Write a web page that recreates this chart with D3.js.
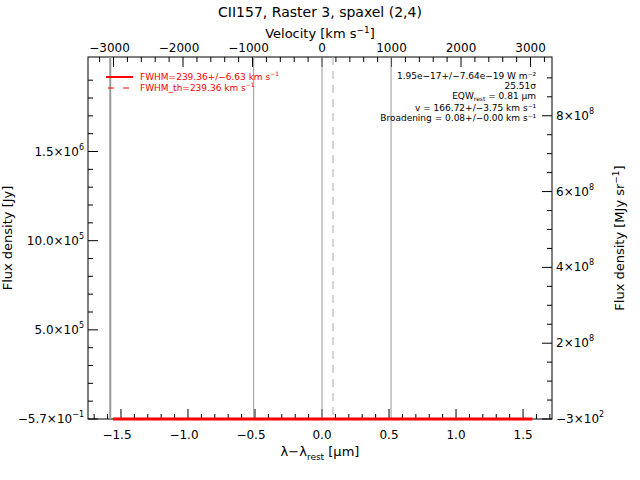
<!DOCTYPE html>
<html><head><meta charset="utf-8">
<script src="https://cdn.jsdelivr.net/npm/d3@7"></script>
<style>body{margin:0;background:#fff}text{font-family:"DejaVu Sans",sans-serif;fill:#000}</style>
</head><body>
<svg id="c" width="640" height="480"></svg>
<script>
// data
var xTicks = [-1.5, -1.0, -0.5, 0.0, 0.5, 1.0, 1.5];
var velTicks = [-3000, -2000, -1000, 0, 1000, 2000, 3000];
var leftTicks = [[0, "\u22125.7\u00d710", "\u22121"], [5e5, "5.0\u00d710", "5"], [1e6, "10.0\u00d710", "5"], [1.5e6, "1.5\u00d710", "6"]];
var rightTicks = [[0, "\u22123\u00d710", "2"], [2e8, "2\u00d710", "8"], [4e8, "4\u00d710", "8"], [6e8, "6\u00d710", "8"], [8e8, "8\u00d710", "8"]];
var thinLines = [-0.51, 0.0, 0.515];
var thickLine = -1.58;
var dashLine = 0.082;
var spectrum = [[-1.56, 0], [1.57, 0]];
var notes = ["1.95e\u221217+/\u22127.64e\u221219 W m\u207b\u00b2", "25.51\u03c3", "EQW_rest = 0.81 \u03bcm", "v = 166.72+/\u22123.75 km s\u207b\u00b9", "Broadening = 0.08+/\u22120.00 km s\u207b\u00b9"];

var L = 88, R = 552, T = 57, B = 419;
var svg = d3.select("#c");
var x = d3.scaleLinear().domain([-1.746, 1.716]).range([L, R]);
var v = d3.scaleLinear().domain([-3367, 3309]).range([L, R]);
var y = d3.scaleLinear().domain([0, 2.03e6]).range([B, T]);
var y2 = d3.scaleLinear().domain([0, 9.55e8]).range([B, T]);

function tick(g, x1, y1, x2, y2c) { g.append("line").attr("x1", x1).attr("y1", y1).attr("x2", x2).attr("y2", y2c).attr("stroke", "#000"); }
var ax = svg.append("g");
ax.append("rect").attr("x", L).attr("y", T).attr("width", R - L).attr("height", B - T).attr("fill", "none").attr("stroke", "#000");
d3.range(-1.7, 1.71, 0.1).forEach(function (d) {
  var big = Math.abs(d * 2 - Math.round(d * 2)) < 1e-6;
  tick(ax, x(d), B, x(d), B - (big ? 10 : 5));
});
d3.range(-3200, 3201, 200).forEach(function (d) {
  tick(ax, v(d), T, v(d), T + (d % 1000 === 0 ? 10 : 5));
});
d3.range(0, 2.0e6, 1e5).forEach(function (d) { tick(ax, L, y(d), L + (d % 5e5 === 0 ? 10 : 5), y(d)); });
d3.range(0, 9.5e8, 5e7).forEach(function (d) { tick(ax, R, y2(d), R - (d % 2e8 === 0 ? 10 : 5), y2(d)); });

xTicks.forEach(function (d) {
  ax.append("text").attr("x", x(d) - (d < 0 ? 4 : 0)).attr("y", B + 20).attr("text-anchor", "middle").attr("font-size", 12)
    .text(d < 0 ? "\u2212" + Math.abs(d).toFixed(1) : d.toFixed(1));
});
velTicks.forEach(function (d) {
  ax.append("text").attr("x", v(d) - (d < 0 ? 4 : 0)).attr("y", T - 5).attr("text-anchor", "middle").attr("font-size", 12)
    .text(d < 0 ? "\u2212" + Math.abs(d) : d);
});
leftTicks.forEach(function (d) {
  var t = ax.append("text").attr("x", L - 4).attr("y", y(d[0]) + 4).attr("text-anchor", "end").attr("font-size", 12);
  t.append("tspan").text(d[1]);
  t.append("tspan").attr("dy", -6).attr("font-size", 8).text(d[2]);
});
rightTicks.forEach(function (d) {
  var t = ax.append("text").attr("x", R + 4).attr("y", y2(d[0]) + 4).attr("font-size", 12);
  t.append("tspan").text(d[1]);
  t.append("tspan").attr("dy", -6).attr("font-size", 8).text(d[2]);
});

// titles
svg.append("text").attr("x", 320).attr("y", 17).attr("text-anchor", "middle").attr("font-size", 14).text("CII157, Raster 3, spaxel (2,4)");
var vt = svg.append("text").attr("x", 320).attr("y", 38).attr("text-anchor", "middle").attr("font-size", 13);
vt.append("tspan").text("Velocity [km s");
vt.append("tspan").attr("dy", -5).attr("font-size", 9).text("\u22121");
vt.append("tspan").attr("dy", 5).text("]");
var xt = svg.append("text").attr("x", 320).attr("y", 456).attr("text-anchor", "middle").attr("font-size", 13);
xt.append("tspan").text("\u03bb\u2212\u03bb");
xt.append("tspan").attr("dy", 4).attr("font-size", 9).text("rest");
xt.append("tspan").attr("dy", -4).text(" [\u03bcm]");
svg.append("text").attr("transform", "translate(12,238) rotate(-90)").attr("text-anchor", "middle").attr("font-size", 13).text("Flux density [Jy]");
var rt = svg.append("text").attr("transform", "translate(624,238) rotate(-90)").attr("text-anchor", "middle").attr("font-size", 13);
rt.append("tspan").text("Flux density [MJy sr");
rt.append("tspan").attr("dy", -5).attr("font-size", 9).text("\u22121");
rt.append("tspan").attr("dy", 5).text("]");

// vertical markers
svg.append("line").attr("x1", x(thickLine)).attr("x2", x(thickLine)).attr("y1", T).attr("y2", B).attr("stroke", "#999").attr("stroke-width", 2);
thinLines.forEach(function (d) {
  svg.append("line").attr("x1", x(d)).attr("x2", x(d)).attr("y1", T).attr("y2", B).attr("stroke", "#999");
});
svg.append("line").attr("x1", x(dashLine)).attr("x2", x(dashLine)).attr("y1", T).attr("y2", B).attr("stroke", "#aaa").attr("stroke-dasharray", "8,6");

// spectrum
svg.append("path").datum(spectrum).attr("fill", "none").attr("stroke", "#f00").attr("stroke-width", 3)
  .attr("d", d3.line().x(function (d) { return x(d[0]); }).y(function (d) { return y(d[1]); }));

// legend
svg.append("line").attr("x1", 106).attr("x2", 133).attr("y1", 77).attr("y2", 77).attr("stroke", "#f00").attr("stroke-width", 2);
svg.append("line").attr("x1", 108).attr("x2", 133).attr("y1", 88).attr("y2", 88).attr("stroke", "#f00").attr("stroke-dasharray", "6,9");
var l1 = svg.append("text").attr("x", 140).attr("y", 80).attr("font-size", 9).style("fill", "#f00");
l1.append("tspan").text("FWHM=239.36+/\u22126.63 km s");
l1.append("tspan").attr("dy", -4).attr("font-size", 6).text("\u22121");
var l2 = svg.append("text").attr("x", 140).attr("y", 91).attr("font-size", 9).style("fill", "#f00");
l2.append("tspan").text("FWHM_th=239.36 km s");
l2.append("tspan").attr("dy", -4).attr("font-size", 6).text("\u22121");

notes.forEach(function (s, i) {
  var t = svg.append("text").attr("x", 536).attr("y", 79 + i * 10 + (i > 2 ? 2 : 0)).attr("text-anchor", "end").attr("font-size", 9);
  if (i === 2) {
    t.append("tspan").text("EQW");
    t.append("tspan").attr("dy", 2).attr("font-size", 6).text("rest");
    t.append("tspan").attr("dy", -2).text(" = 0.81 \u03bcm");
  } else t.text(s);
});
</script>
</body></html>
